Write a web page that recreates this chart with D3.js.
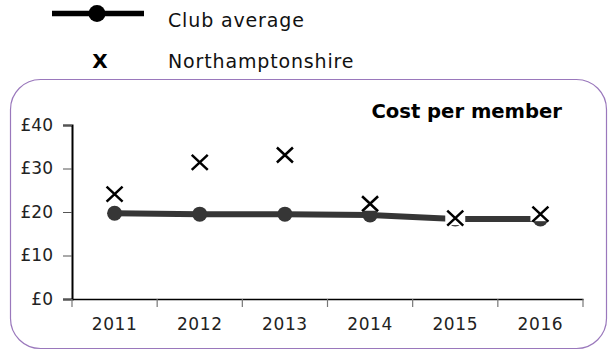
<!DOCTYPE html>
<html>
<head>
<meta charset="utf-8">
<script src="https://cdn.jsdelivr.net/npm/d3@7"></script>
<style>
  html, body { margin: 0; padding: 0; background: #fff; }
  svg { display: block; }
  text { font-family: "DejaVu Sans", Verdana, sans-serif; }
</style>
</head>
<body>
<svg id="chart" width="612" height="351"></svg>
<script>
// Cost per member, by season
const years = ["2011", "2012", "2013", "2014", "2015", "2016"];
const clubAverage = [19.7, 19.5, 19.5, 19.3, 18.4, 18.4];
const northamptonshire = [24.1, 31.4, 33.1, 21.9, 18.6, 19.5];
const yTicks = [0, 10, 20, 30, 40];
const legendLabels = ["Club average", "Northamptonshire"];
const title = "Cost per member";

const svg = d3.select("#chart");

// Framed panel
svg.append("rect")
  .attr("x", 10.5).attr("y", 79.5)
  .attr("width", 596).attr("height", 269)
  .attr("rx", 30).attr("ry", 30)
  .attr("fill", "#fff")
  .attr("stroke", "#9a78bc")
  .attr("stroke-width", 1.2);

const x = d3.scaleBand().domain(years).range([72, 583]).padding(0);
const y = d3.scaleLinear().domain([0, 40]).range([299, 125]);

// Y axis
const yAxis = svg.append("g")
  .attr("transform", "translate(72,0)")
  .call(d3.axisLeft(y).tickValues(yTicks).tickSize(9).tickPadding(10)
    .tickFormat(d => "£" + d));
yAxis.select(".domain").attr("stroke", "#000").attr("stroke-width", 2);
yAxis.selectAll(".tick line").attr("stroke", "#555");
yAxis.selectAll(".tick text")
  .attr("font-size", 17).attr("fill", "#222")
  .attr("font-family", "DejaVu Sans, Verdana, sans-serif");

// X axis with boundary ticks between categories
const xAxis = svg.append("g")
  .attr("transform", "translate(0,299)")
  .call(d3.axisBottom(x).tickSize(0).tickPadding(19));
xAxis.select(".domain").attr("stroke", "#000").attr("stroke-width", 1.6);
xAxis.selectAll(".tick text")
  .attr("font-size", 17).attr("fill", "#222")
  .attr("letter-spacing", 0.6)
  .attr("font-family", "DejaVu Sans, Verdana, sans-serif");
const boundaries = years.map(d => x(d)).concat([x(years[years.length - 1]) + x.bandwidth()]);
svg.append("g").selectAll("line").data(boundaries).join("line")
  .attr("x1", d => d).attr("x2", d => d)
  .attr("y1", 299).attr("y2", 307)
  .attr("stroke", "#777").attr("stroke-width", 1.2);

const cx = d => x(d) + x.bandwidth() / 2;

// Club average line
const line = d3.line().x((d, i) => cx(years[i])).y(d => y(d));
svg.append("path")
  .datum(clubAverage)
  .attr("d", line)
  .attr("fill", "none")
  .attr("stroke", "#363636")
  .attr("stroke-width", 6);
svg.append("g").selectAll("circle").data(clubAverage).join("circle")
  .attr("cx", (d, i) => cx(years[i]))
  .attr("cy", d => y(d))
  .attr("r", 7.5)
  .attr("fill", "#363636");

// Northamptonshire markers, each on a small white knockout
const xs = svg.append("g").selectAll("g").data(northamptonshire).join("g")
  .attr("transform", (d, i) => `translate(${cx(years[i])},${y(d)})`);
xs.append("rect")
  .attr("x", -10).attr("y", -7).attr("width", 20).attr("height", 14)
  .attr("fill", "#fff");
xs.append("path")
  .attr("d", "M-8,-7.5L8,7.5M-8,7.5L8,-7.5")
  .attr("stroke", "#000").attr("stroke-width", 2.5).attr("fill", "none");

// Title
svg.append("text")
  .attr("x", 562).attr("y", 118)
  .attr("text-anchor", "end")
  .attr("font-size", 19.6).attr("font-weight", "bold").attr("fill", "#000")
  .text(title);

// Legend
const legend = svg.append("g");
legend.append("line")
  .attr("x1", 52).attr("x2", 144).attr("y1", 13.5).attr("y2", 13.5)
  .attr("stroke", "#000").attr("stroke-width", 5.5);
legend.append("circle").attr("cx", 97).attr("cy", 13.5).attr("r", 8.5).attr("fill", "#000");
legend.append("text")
  .attr("x", 100).attr("y", 68).attr("text-anchor", "middle")
  .attr("font-size", 20).attr("font-weight", "bold").attr("fill", "#000")
  .text("X");
legend.selectAll("text.lab").data(legendLabels).join("text")
  .attr("class", "lab")
  .attr("x", 168).attr("y", (d, i) => 27 + i * 41)
  .attr("font-size", 19).attr("letter-spacing", 0.85).attr("fill", "#111")
  .text(d => d);
</script>
</body>
</html>
